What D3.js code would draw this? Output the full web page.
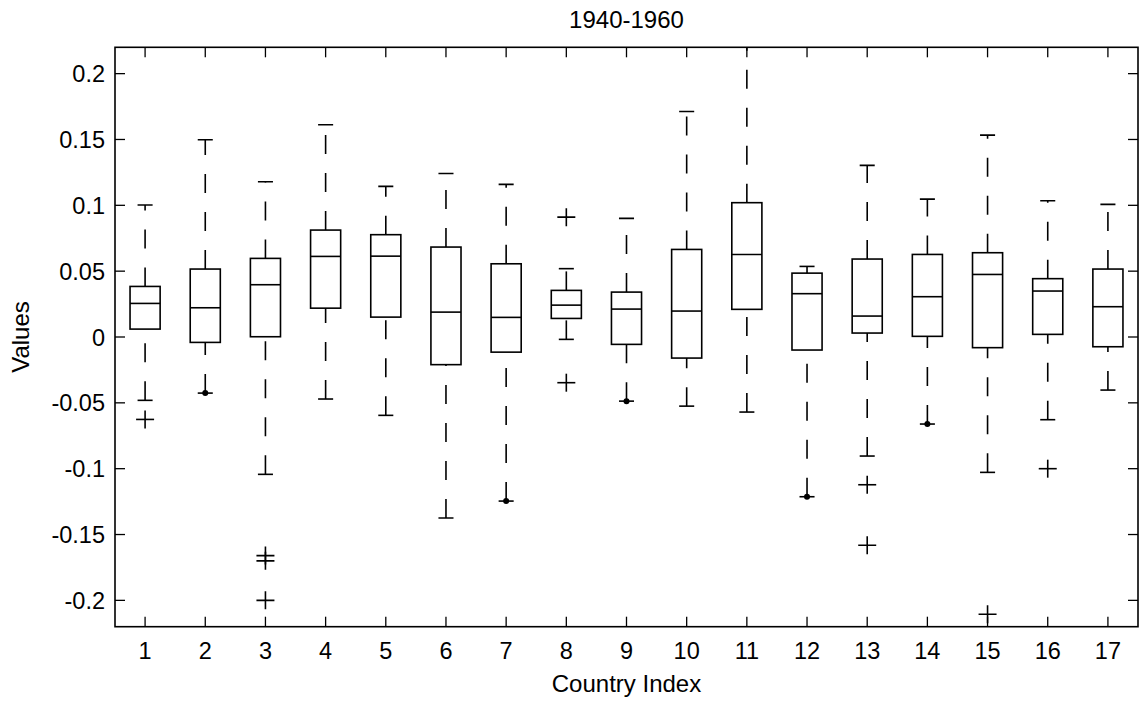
<!DOCTYPE html>
<html>
<head>
<meta charset="utf-8">
<script src="https://cdn.jsdelivr.net/npm/d3@7"></script>
<style>
  html, body { margin: 0; padding: 0; background: #fff; }
  svg { display: block; }
  text { font-family: "Liberation Sans", Arial, Helvetica, sans-serif; fill: #000; }
</style>
</head>
<body>
<svg id="chart" width="1139" height="702"></svg>
<script>
// ---- data ----
const categories = [1,2,3,4,5,6,7,8,9,10,11,12,13,14,15,16,17];
const q1Values      = [0.006, -0.0041, 0.0002, 0.0219, 0.0151, -0.021, -0.0115, 0.0141, -0.0056, -0.016, 0.021, -0.0099, 0.003, 0.0005, -0.0081, 0.002, -0.0074];
const medianValues  = [0.0255, 0.0222, 0.0397, 0.0612, 0.0614, 0.0189, 0.0149, 0.0242, 0.0212, 0.0197, 0.0627, 0.0329, 0.0159, 0.0306, 0.0475, 0.0349, 0.023];
const q3Values      = [0.0384, 0.0516, 0.0597, 0.0812, 0.0777, 0.0683, 0.0556, 0.0354, 0.0341, 0.0665, 0.102, 0.0485, 0.0592, 0.0627, 0.064, 0.0443, 0.0516];
const whiskerLow    = [-0.0481, -0.0426, -0.1043, -0.0471, -0.0595, -0.1375, -0.1246, -0.0018, -0.0487, -0.0525, -0.057, -0.1213, -0.0904, -0.0661, -0.1028, -0.0628, -0.0403];
const whiskerHigh   = [0.1002, 0.1498, 0.1179, 0.1612, 0.1144, 0.1242, 0.1159, 0.0519, 0.0901, 0.1713, 0.235, 0.0536, 0.1303, 0.1047, 0.1533, 0.1035, 0.1007];
const outlierCats   = [1, 3, 3, 3, 8, 8, 13, 13, 15, 16];
const outlierValues = [-0.0626, -0.166, -0.170, -0.200, 0.091, -0.0347, -0.1122, -0.1582, -0.2106, -0.1];
const dotCats       = [2, 7, 9, 12, 14];
const dotValues     = [-0.0426, -0.1246, -0.0487, -0.1213, -0.0661];
const yTicks = [-0.2, -0.15, -0.1, -0.05, 0, 0.05, 0.1, 0.15, 0.2];
const yTickLabels = ["-0.2", "-0.15", "-0.1", "-0.05", "0", "0.05", "0.1", "0.15", "0.2"];
const titleText = "1940-1960";
const xLabel = "Country Index";
const yLabel = "Values";

// ---- layout ----
const mLeft = 115, mRight = 1138, mTop = 47.3, mBottom = 626.7;
const svg = d3.select("#chart");
const x = d3.scaleLinear().domain([0.5, 17.5]).range([mLeft, mRight]);
const y = d3.scaleLinear().domain([-0.22, 0.22]).range([mBottom, mTop]);
const unit = x(1) - x(0);
const boxHalf = unit * 0.25;
const capHalf = unit * 0.125;
const lw = 1.6;
const tickFont = 23.5, labelFont = 24;

svg.append("defs").append("clipPath").attr("id", "plotclip")
  .append("rect").attr("x", mLeft).attr("y", mTop).attr("width", mRight - mLeft).attr("height", mBottom - mTop);

const g = svg.append("g").attr("clip-path", "url(#plotclip)");

const data = categories.map((c, i) => ({
  c, q1: q1Values[i], med: medianValues[i], q3: q3Values[i], lo: whiskerLow[i], hi: whiskerHigh[i]
}));

// whiskers (drawn from lower value upward so dash pattern starts at lower end)
g.selectAll("line.wlo").data(data).enter().append("line")
  .attr("x1", d => x(d.c)).attr("x2", d => x(d.c))
  .attr("y1", d => y(d.lo)).attr("y2", d => y(d.q1))
  .attr("stroke", "#000").attr("stroke-width", lw).attr("stroke-dasharray", "19,19");
g.selectAll("line.whi").data(data).enter().append("line")
  .attr("x1", d => x(d.c)).attr("x2", d => x(d.c))
  .attr("y1", d => y(d.q3)).attr("y2", d => y(d.hi))
  .attr("stroke", "#000").attr("stroke-width", lw).attr("stroke-dasharray", "19,19");
// caps
g.selectAll("line.clo").data(data).enter().append("line")
  .attr("x1", d => x(d.c) - capHalf).attr("x2", d => x(d.c) + capHalf)
  .attr("y1", d => y(d.lo)).attr("y2", d => y(d.lo))
  .attr("stroke", "#000").attr("stroke-width", lw);
g.selectAll("line.chi").data(data).enter().append("line")
  .attr("x1", d => x(d.c) - capHalf).attr("x2", d => x(d.c) + capHalf)
  .attr("y1", d => y(d.hi)).attr("y2", d => y(d.hi))
  .attr("stroke", "#000").attr("stroke-width", lw);
// boxes
g.selectAll("rect.box").data(data).enter().append("rect")
  .attr("x", d => x(d.c) - boxHalf).attr("width", 2 * boxHalf)
  .attr("y", d => y(d.q3)).attr("height", d => y(d.q1) - y(d.q3))
  .attr("fill", "none").attr("stroke", "#000").attr("stroke-width", lw);
// medians
g.selectAll("line.med").data(data).enter().append("line")
  .attr("x1", d => x(d.c) - boxHalf).attr("x2", d => x(d.c) + boxHalf)
  .attr("y1", d => y(d.med)).attr("y2", d => y(d.med))
  .attr("stroke", "#000").attr("stroke-width", lw);
// outliers '+'
const outliers = outlierCats.map((c, i) => ({ c, v: outlierValues[i] }));
const og = g.selectAll("g.out").data(outliers).enter().append("g");
og.append("line").attr("x1", d => x(d.c) - 9).attr("x2", d => x(d.c) + 9)
  .attr("y1", d => y(d.v)).attr("y2", d => y(d.v)).attr("stroke", "#000").attr("stroke-width", lw);
og.append("line").attr("x1", d => x(d.c)).attr("x2", d => x(d.c))
  .attr("y1", d => y(d.v) - 9).attr("y2", d => y(d.v) + 9).attr("stroke", "#000").attr("stroke-width", lw);
// dots
const dots = dotCats.map((c, i) => ({ c, v: dotValues[i] }));
g.selectAll("circle.dot").data(dots).enter().append("circle")
  .attr("cx", d => x(d.c)).attr("cy", d => y(d.v)).attr("r", 3).attr("fill", "#000");

// ---- axes ----
const tickLen = 10;
const axisG = svg.append("g");
axisG.append("rect").attr("x", mLeft).attr("y", mTop).attr("width", mRight - mLeft).attr("height", mBottom - mTop)
  .attr("fill", "none").attr("stroke", "#000").attr("stroke-width", 1.6);
// y ticks
yTicks.forEach((t, i) => {
  axisG.append("line").attr("x1", mLeft).attr("x2", mLeft + tickLen).attr("y1", y(t)).attr("y2", y(t))
    .attr("stroke", "#000").attr("stroke-width", 1.3);
  axisG.append("line").attr("x1", mRight - tickLen).attr("x2", mRight).attr("y1", y(t)).attr("y2", y(t))
    .attr("stroke", "#000").attr("stroke-width", 1.3);
  axisG.append("text").attr("x", mLeft - 10).attr("y", y(t) + 8.5).attr("text-anchor", "end")
    .attr("font-size", tickFont).text(yTickLabels[i]);
});
// x ticks
categories.forEach(c => {
  axisG.append("line").attr("x1", x(c)).attr("x2", x(c)).attr("y1", mBottom).attr("y2", mBottom - tickLen)
    .attr("stroke", "#000").attr("stroke-width", 1.3);
  axisG.append("line").attr("x1", x(c)).attr("x2", x(c)).attr("y1", mTop).attr("y2", mTop + tickLen)
    .attr("stroke", "#000").attr("stroke-width", 1.3);
  axisG.append("text").attr("x", x(c)).attr("y", 659).attr("text-anchor", "middle")
    .attr("font-size", tickFont).text(String(c));
});
// labels
svg.append("text").attr("x", (mLeft + mRight) / 2).attr("y", 28).attr("text-anchor", "middle")
  .attr("font-size", labelFont).text(titleText);
svg.append("text").attr("x", (mLeft + mRight) / 2).attr("y", 692).attr("text-anchor", "middle")
  .attr("font-size", labelFont).text(xLabel);
svg.append("text").attr("transform", `translate(29, ${(mTop + mBottom) / 2}) rotate(-90)`)
  .attr("text-anchor", "middle").attr("font-size", labelFont).text(yLabel);
</script>
</body>
</html>
